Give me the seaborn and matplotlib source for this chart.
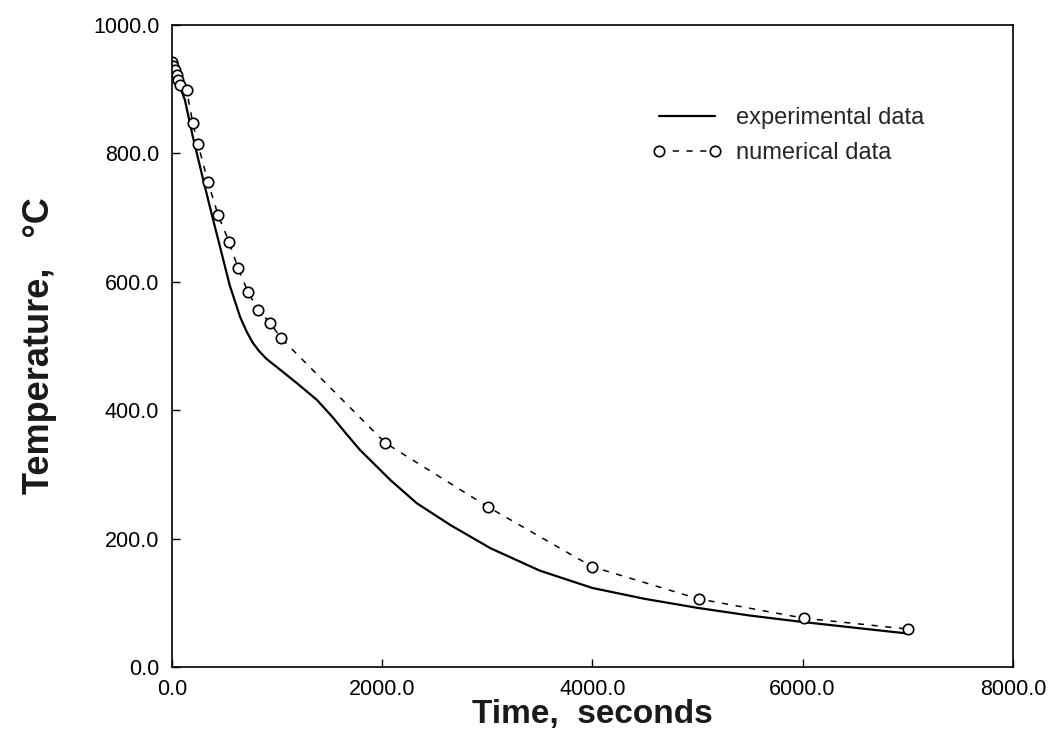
import matplotlib
matplotlib.use("Agg")
import matplotlib.pyplot as plt
import seaborn as sns
import pandas as pd
from matplotlib.ticker import FormatStrFormatter

# Experimental curve
exp_time = [0, 50, 125, 200, 300, 380, 450, 550, 650, 710, 770, 830, 900, 1000, 1190, 1380, 1530,
            1650, 1790, 2080, 2330, 2650, 3030, 3500, 4000, 4500, 5000, 5500, 6000, 6500, 7000]
exp_temp = [945, 915, 883, 826, 758, 705, 660, 595, 545, 523, 505, 492, 480, 467, 442, 416, 389,
            365, 338, 291, 255, 221, 185, 150, 123, 106, 92, 80, 70, 61, 52]

# Numerical points
num_time = [0, 15, 30, 45, 60, 80, 140, 200, 250, 345, 440, 545, 630, 725, 820, 935, 1040,
            2030, 3010, 4000, 5010, 6010, 7000]
num_temp = [942, 936, 930, 922, 915, 907, 899, 847, 814, 755, 704, 662, 621, 584, 556, 536, 512,
            349, 249, 156, 106, 76, 59]

x_ticks = [0, 2000, 4000, 6000, 8000]
y_ticks = [0, 200, 400, 600, 800, 1000]

sns.set_theme(style="ticks")
plt.rcParams['font.family'] = ['Liberation Sans', 'DejaVu Sans']

fig = plt.figure(figsize=(10.54, 7.46), dpi=100)
ax = fig.add_axes([0.163, 0.106, 0.798, 0.8605])

exp_df = pd.DataFrame({"t": exp_time, "T": exp_temp})
num_df = pd.DataFrame({"t": num_time, "T": num_temp})

sns.lineplot(data=exp_df, x="t", y="T", ax=ax, color="black", linewidth=1.6,
             label="experimental data", sort=False)
sns.lineplot(data=num_df, x="t", y="T", ax=ax, color="black", linewidth=1.1,
             linestyle=(0, (4, 5)), marker="o", markersize=7.5, markerfacecolor="white",
             markeredgecolor="black", markeredgewidth=1.2,
             label="numerical data", sort=False)

ax.set_xlim(0, 8000)
ax.set_ylim(0, 1000)
ax.set_xticks(x_ticks)
ax.set_yticks(y_ticks)
ax.xaxis.set_major_formatter(FormatStrFormatter("%.1f"))
ax.yaxis.set_major_formatter(FormatStrFormatter("%.1f"))
ax.tick_params(direction="in", length=6, width=1.0, labelsize=15.5, colors="black", pad=9)
for s in ax.spines.values():
    s.set_linewidth(1.2)
    s.set_color("black")

ax.set_xlabel("Time,  seconds", fontsize=24, labelpad=-1, fontweight="bold", color="#1a1a1a")
ax.set_ylabel("Temperature,   °C", fontsize=26, labelpad=26, fontweight="bold", color="#1a1a1a")

leg = ax.legend(loc="upper left", bbox_to_anchor=(0.545, 0.905), frameon=False,
                fontsize=17, handlelength=3.0, handletextpad=0.6, labelspacing=0.55,
                numpoints=2)

fig.savefig("out.png", dpi=100)
